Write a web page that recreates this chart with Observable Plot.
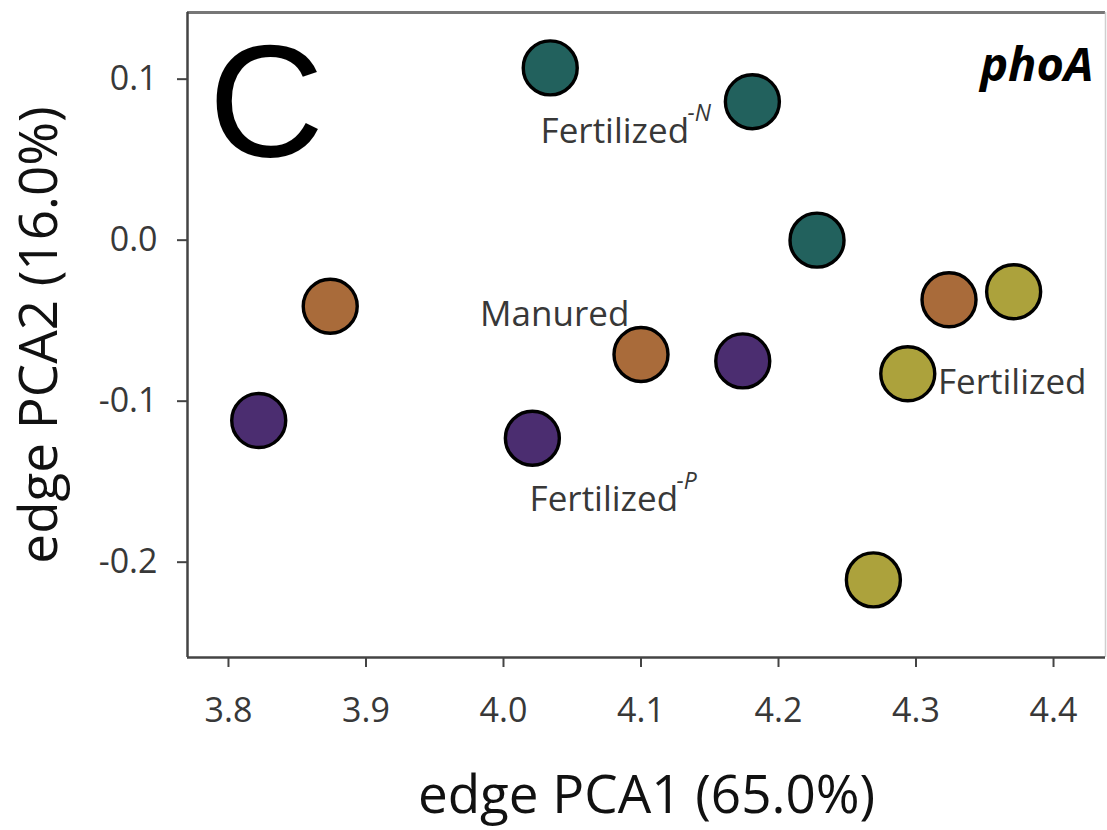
<!DOCTYPE html>
<html>
<head>
<meta charset="utf-8">
<script src="https://cdn.jsdelivr.net/npm/d3@7"></script>
<script src="https://cdn.jsdelivr.net/npm/@observablehq/plot@0.6"></script>
<style>
  html, body { margin: 0; padding: 0; background: #fff; }
  #chart svg { display: block; }
</style>
</head>
<body>
<div id="chart"></div>
<script>
// ---- data ----
const groups = ["Fertilized-N", "Manured", "Fertilized-P", "Fertilized"];
const groupColors = ["#22615d", "#a96b3a", "#4b2d70", "#aca23c"];

const pointGroup = [
  "Fertilized-N", "Fertilized-N", "Fertilized-N",
  "Manured", "Manured", "Manured",
  "Fertilized-P", "Fertilized-P", "Fertilized-P",
  "Fertilized", "Fertilized", "Fertilized"
];
const pca1 = [4.034, 4.181, 4.228, 3.874, 4.100, 4.324, 3.822, 4.021, 4.174, 4.371, 4.294, 4.269];
const pca2 = [0.107, 0.086, 0.000, -0.041, -0.071, -0.037, -0.112, -0.123, -0.075, -0.032, -0.083, -0.211];

const labelText = ["Fertilized", "Manured", "Fertilized", "Fertilized"];
const labelSup = ["-N", "", "-P", ""];
const labelX = [4.027, 3.983, 4.019, 4.316];
const labelY = [0.0675, -0.0462, -0.1611, -0.0886];

const xTicks = [3.8, 3.9, 4.0, 4.1, 4.2, 4.3, 4.4];
const yTicks = [0.1, 0.0, -0.1, -0.2];
const xDomain = [3.7702, 4.4378];
const yDomain = [-0.2592, 0.1414];

const xTitle = "edge PCA1 (65.0%)";
const yTitle = "edge PCA2 (16.0%)";
const panelLetter = "C";
const geneName = "phoA";

// ---- tables ----
const points = pca1.map((v, i) => ({x: v, y: pca2[i], g: pointGroup[i]}));
const labels = labelText.map((t, i) => ({x: labelX[i], y: labelY[i], t, s: labelSup[i]}));
const supLabels = labels.filter(d => d.s);

const textColor = "#383838";

const chart = Plot.plot({
  width: 1107,
  height: 830,
  marginLeft: 187,
  marginRight: 2,
  marginTop: 12,
  marginBottom: 173,
  style: {fontFamily: "'Open Sans', sans-serif", background: "#fff", color: textColor},
  x: {domain: xDomain},
  y: {domain: yDomain},
  color: {domain: groups, range: groupColors},
  marks: [
    Plot.axisX({ticks: xTicks, tickFormat: d => d.toFixed(1), tickSize: 10, tickPadding: 30, fontSize: 34, label: null, stroke: "#444", strokeWidth: 2, fill: textColor}),
    Plot.axisY({ticks: yTicks, tickFormat: d => d.toFixed(1), tickSize: 10, tickPadding: 20, fontSize: 34, label: null, stroke: "#444", strokeWidth: 2, fill: textColor}),
    Plot.ruleY([yDomain[1]], {stroke: "#777", strokeWidth: 3}),
    Plot.ruleX([xDomain[1]], {stroke: "#cfcfcf", strokeWidth: 1.5}),
    Plot.ruleY([yDomain[0]], {stroke: "#444", strokeWidth: 2.5}),
    Plot.ruleX([xDomain[0]], {stroke: "#444", strokeWidth: 2.5}),
    Plot.dot(points, {x: "x", y: "y", fill: "g", r: 27, stroke: "#000", strokeWidth: 3.4}),
    Plot.text(labels, {x: "x", y: "y", text: "t", textAnchor: "start", fontSize: 35, fill: textColor}),
    Plot.text(supLabels, {x: "x", y: "y", text: "s", textAnchor: "start", fontSize: 23, fontStyle: "italic", dx: 147, dy: -18, fill: textColor}),
    Plot.text([panelLetter], {frameAnchor: "top-left", textAnchor: "start", lineAnchor: "top", dx: 21, dy: 30, fontSize: 160, fontFamily: "'Liberation Sans', Arial, sans-serif", fill: "#000"}),
    Plot.text([geneName], {frameAnchor: "top-right", textAnchor: "end", lineAnchor: "top", dx: -12, dy: 35, fontSize: 47, fontWeight: "bold", fontStyle: "italic", fill: "#000"}),
    Plot.text([xTitle], {frameAnchor: "bottom", textAnchor: "middle", lineAnchor: "middle", dy: 139, fontSize: 53, fill: "#111"}),
    Plot.text([yTitle], {frameAnchor: "left", textAnchor: "middle", lineAnchor: "middle", rotate: -90, dx: -147, fontSize: 53, fill: "#111"})
  ]
});
document.getElementById("chart").appendChild(chart);
</script>
</body>
</html>
